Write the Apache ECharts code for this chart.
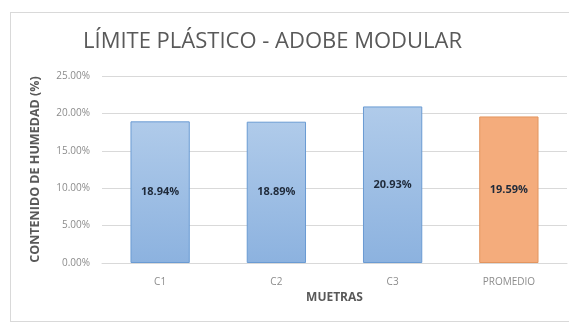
<!DOCTYPE html>
<html>
<head>
<meta charset="utf-8">
<script src="https://cdn.jsdelivr.net/npm/echarts@6/dist/echarts.min.js"></script>
<style>
  html, body { margin: 0; padding: 0; background: #fff; }
  #wrap { position: absolute; left: 10px; top: 12px; width: 570px; height: 310px; border: 1px solid #d9d9d9; box-sizing: border-box; }
  #main { position: absolute; left: 0; top: 0; width: 569px; height: 324px; }
</style>
</head>
<body>
<div id="wrap"></div>
<div id="main"></div>
<script>
// datos del grafico
var categorias = ['C1', 'C2', 'C3', 'PROMEDIO'];
var valores = [18.94, 18.89, 20.93, 19.59];
var ticksY = [0, 5, 10, 15, 20, 25];

var azul = {
    type: 'linear', x: 0, y: 0, x2: 0, y2: 1,
    colorStops: [{offset: 0, color: '#b0cbea'}, {offset: 1, color: '#8cb2df'}]
};
var naranja = '#f4ac7c';

var datos = valores.map(function (v, i) {
    var ultimo = i === valores.length - 1;
    return {
        value: v,
        itemStyle: {
            color: ultimo ? naranja : azul,
            borderColor: ultimo ? '#e3955f' : '#6a9bd3',
            borderWidth: 1
        }
    };
});

var option = {
    animation: false,
    title: {
        text: 'LÍMITE PLÁSTICO - ADOBE MODULAR',
        left: 78,
        top: 26,
        textStyle: {
            fontFamily: 'Open Sans',
            fontSize: 22,
            fontWeight: 'normal',
            color: '#595959'
        }
    },
    grid: {
        left: 102,
        right: 2,
        top: 76,
        bottom: 61
    },
    xAxis: {
        type: 'category',
        data: categorias,
        name: 'MUETRAS',
        nameLocation: 'middle',
        nameGap: 27,
        nameTextStyle: {fontFamily: 'Open Sans', fontWeight: 'bold', fontSize: 12, color: '#595959'},
        axisLine: {lineStyle: {color: '#d9d9d9'}},
        axisTick: {show: false},
        axisLabel: {fontFamily: 'Open Sans', fontSize: 10, color: '#8c8c8c', margin: 14}
    },
    yAxis: {
        type: 'value',
        min: ticksY[0],
        max: ticksY[ticksY.length - 1],
        interval: 5,
        name: 'CONTENIDO DE HUMEDAD (%)',
        nameLocation: 'middle',
        nameGap: 60,
        nameTextStyle: {fontFamily: 'Open Sans', fontWeight: 'bold', fontSize: 12.5, color: '#595959'},
        axisLine: {show: false},
        axisTick: {show: false},
        splitLine: {lineStyle: {color: '#d9d9d9'}},
        axisLabel: {
            fontFamily: 'Open Sans', fontSize: 10, color: '#8c8c8c', margin: 12,
            formatter: function (v) { return v.toFixed(2) + '%'; }
        }
    },
    series: [{
        type: 'bar',
        data: datos,
        barWidth: '51%',
        label: {
            show: true,
            position: 'inside',
            fontFamily: 'Open Sans',
            fontWeight: 'bold',
            fontSize: 11,
            color: '#1f2a3a',
            formatter: function (p) { return p.value.toFixed(2) + '%'; }
        }
    }]
};

var myChart = echarts.init(document.getElementById('main'));
myChart.setOption(option);
</script>
</body>
</html>
